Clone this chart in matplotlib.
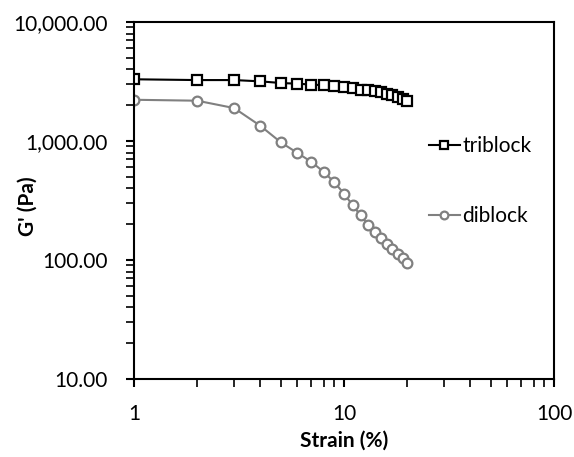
import numpy as np
import matplotlib
matplotlib.use('Agg')
import matplotlib.pyplot as plt
from matplotlib.ticker import FuncFormatter, LogLocator, NullFormatter

plt.rcParams['font.family'] = ['Lato', 'DejaVu Sans']

# strain sweep data
strain = [1, 2, 3, 4, 5, 6, 7, 8, 9, 10, 11, 12, 13, 14, 15, 16, 17, 18, 19, 20]
triblock = [3300, 3250, 3250, 3170, 3070, 3030, 2980, 2940, 2890, 2840,
            2790, 2700, 2660, 2610, 2560, 2500, 2420, 2350, 2260, 2180]
diblock = [2220, 2180, 1890, 1340, 975, 793, 667, 550, 450, 361,
           288, 237, 198, 171, 152, 135, 123, 112, 103, 95]

fs = 15

fig = plt.figure(figsize=(5.74, 4.57), dpi=100)
ax = fig.add_axes([0.2334, 0.1707, 0.7318, 0.7812])

ax.plot(strain, triblock, color='black', lw=1.5, marker='s', ms=7,
        mfc='white', mec='black', mew=1.6, label='triblock')
ax.plot(strain, diblock, color='#808080', lw=1.5, marker='o', ms=7,
        mfc='white', mec='#808080', mew=1.6, label='diblock')

ax.set_xscale('log')
ax.set_yscale('log')
ax.set_xlim(1, 100)
ax.set_ylim(10, 10000)

ax.yaxis.set_major_formatter(FuncFormatter(lambda v, p: '{:,.2f}'.format(v)))
ax.xaxis.set_major_formatter(FuncFormatter(lambda v, p: '{:g}'.format(v)))
ax.xaxis.set_minor_locator(LogLocator(base=10, subs=np.arange(2, 10)))
ax.yaxis.set_minor_locator(LogLocator(base=10, subs=np.arange(2, 10)))
ax.xaxis.set_minor_formatter(NullFormatter())
ax.yaxis.set_minor_formatter(NullFormatter())

ax.tick_params(which='major', direction='out', length=6, width=1.5,
               labelsize=fs, colors='black')
ax.tick_params(axis='y', which='major', pad=13)
ax.tick_params(axis='x', which='major', pad=12)
ax.tick_params(which='minor', direction='out', length=6, width=1.2)
for s in ax.spines.values():
    s.set_linewidth(1.5)

ax.set_xlabel('Strain (%)', fontsize=fs, fontweight='bold')
ax.set_ylabel("G' (Pa)", fontsize=fs, fontweight='bold')
ax.xaxis.set_label_coords(0.5, -0.145)
ax.yaxis.set_label_coords(-0.229, 0.485)

ax.legend(loc='center left', bbox_to_anchor=(0.702, 0.555), frameon=False,
          fontsize=fs, handlelength=1.5, handletextpad=0.1,
          labelspacing=2.4, markerscale=0.8, borderpad=0, borderaxespad=0)

fig.savefig('out.png', dpi=100)
